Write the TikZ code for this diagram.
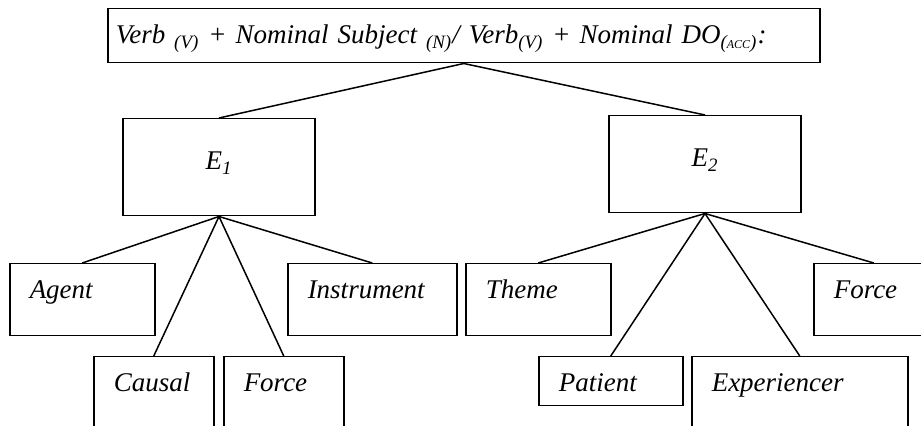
\documentclass[tikz,border=0pt]{standalone}
\usepackage{fontspec}
\setmainfont{Liberation Serif}
\newcommand{\tinycaps}[1]{{\fontsize{6}{7}\selectfont #1}}
\begin{document}
\begin{tikzpicture}[x=0.5pt,y=-0.5pt]
	\tikzset{frame/.style = {draw, rectangle, line width=0.75pt, inner ysep=0pt, font=\fontsize{13.5}{16}\selectfont\itshape}}
	\tikzset{role/.style = {frame, anchor=north west, inner xsep=10pt, align=left, text height=17.5pt, text depth=#1}}
	\tikzset{event/.style = {frame, anchor=north, minimum width=96pt, inner xsep=0pt, text height=25.5pt, text depth=23pt}}
	\useasboundingbox (0,0) rectangle (921,426);
	\clip (0,0) rectangle (921,426);
	\node[frame, anchor=north west, inner xsep=4pt, text width=348pt, align=left, text height=17.5pt, text depth=9.5pt] (pattern) at (107,8)
		{Verb \textsubscript{(V)} + Nominal Subject \textsubscript{(N)}/ Verb\textsubscript{(V)} + Nominal DO\textsubscript{(\tinycaps{ACC})}:};
	\node[event] (e1) at (219,118) {E\textsubscript{1}};
	\node[event] (e2) at (705,115) {E\textsubscript{2}};
	\node[role=18.5pt, text width=52.5pt] (agent) at (9,263) {Agent};
	\node[role=18.5pt, text width=64.5pt] (instrument) at (287,263) {Instrument};
	\node[role=40pt, text width=40pt] (causal) at (93,356) {Causal};
	\node[role=40pt, text width=40pt] (force) at (223,356) {Force};
	\node[role=18.5pt, text width=52.5pt] (theme) at (465,263) {Theme};
	\node[role=18.5pt, text width=40pt] (forceb) at (813,263) {Force};
	\node[role=7pt, text width=52pt] (patient) at (538,356) {Patient};
	\node[role=40pt, text width=88pt] (experiencer) at (691,356) {Experiencer};
	\path[draw, line width=0.75pt] (pattern.south) edge (e1.north) edge (e2.north);
	\path[draw, line width=0.75pt] (e1.south) edge (agent.north) edge (causal.north) edge (force.north) edge (instrument.north);
	\path[draw, line width=0.75pt] (e2.south) edge (theme.north) edge (patient.north) edge (experiencer.north) edge (forceb.north);
\end{tikzpicture}
\end{document}
